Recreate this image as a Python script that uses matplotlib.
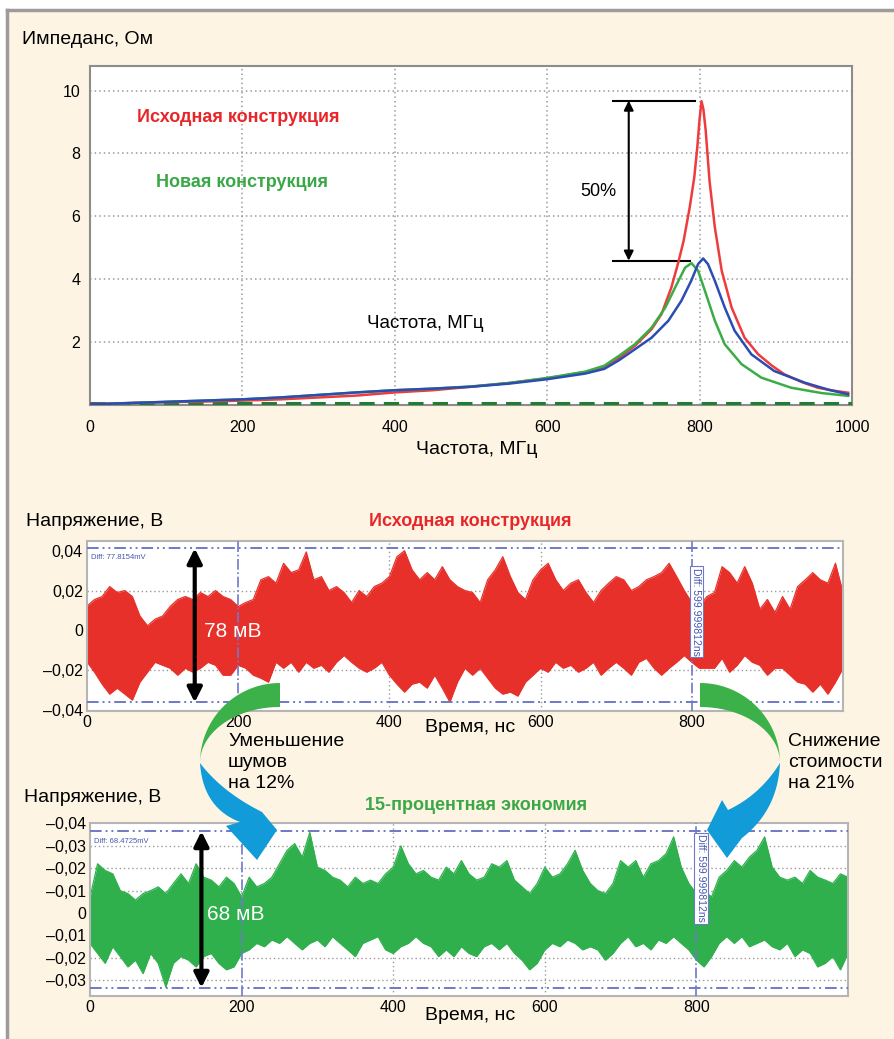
import numpy as np
import matplotlib
matplotlib.use("Agg")
import matplotlib.pyplot as plt
from matplotlib.patches import Polygon, Rectangle
from matplotlib.lines import Line2D

plt.rcParams['font.family'] = ['Liberation Sans', 'DejaVu Sans']

# --- impedance curves (MHz, Ohm) ---
red_f = [0, 50, 100, 150, 200, 250, 300, 350, 400, 450, 500, 550, 600, 650, 675, 694, 715, 737, 750, 763,
         772, 779, 787, 793, 797, 800, 802.5, 805, 808, 813, 820, 829, 842, 859, 877, 895, 911, 935, 955, 975, 995]
red_z = [0.03, 0.06, 0.09, 0.11, 0.14, 0.18, 0.24, 0.30, 0.40, 0.47, 0.58, 0.70, 0.85, 1.05, 1.22, 1.50, 1.88, 2.41, 2.89, 3.74,
         4.53, 5.22, 6.28, 7.24, 8.2, 9.1, 9.66, 9.4, 8.73, 7.13, 5.65, 4.27, 3.1, 2.14, 1.61, 1.25, 0.98, 0.72, 0.55, 0.46, 0.39]
blue_f = [0, 50, 100, 150, 200, 250, 300, 350, 400, 450, 500, 550, 600, 650, 675, 694, 715, 737, 759, 776,
          789, 798, 804.7, 811, 820, 833, 846, 868, 898, 938, 970, 995]
blue_z = [0.02, 0.06, 0.10, 0.14, 0.18, 0.24, 0.32, 0.40, 0.47, 0.52, 0.58, 0.68, 0.82, 1.00, 1.15, 1.42, 1.77, 2.14, 2.68, 3.31,
          3.95, 4.48, 4.66, 4.48, 3.95, 3.10, 2.36, 1.61, 1.08, 0.71, 0.48, 0.34]
green_f = [0, 50, 100, 150, 200, 250, 300, 350, 400, 450, 500, 550, 600, 650, 675, 694, 715, 737, 755, 770,
           781, 789.4, 798, 807, 820, 833, 855, 881, 920, 960, 995]
green_z = [0.02, 0.06, 0.10, 0.14, 0.18, 0.24, 0.32, 0.40, 0.47, 0.52, 0.59, 0.70, 0.86, 1.06, 1.25, 1.56, 1.93, 2.46, 3.10, 3.84,
           4.37, 4.51, 4.27, 3.63, 2.68, 1.93, 1.30, 0.87, 0.55, 0.38, 0.29]
base_f = [0, 1000]
base_z = [0.05, 0.05]
peak_hi, peak_lo = 9.68, 4.59

# --- noise envelopes, mV, one value every 10 ns from 0 to 1000 ns ---
red_hi = [12.2, 15.5, 17, 22, 19, 20, 17, 7.2, 2.3, 5.6,
          7.2, 12, 15.5, 17, 15.5, 19, 17, 20, 17, 15.5,
          12, 14, 15.5, 25.4, 27, 23.7, 33.7, 29, 30.4, 39.4,
          25.4, 27, 20, 22, 19, 14, 20, 17, 22, 23.7,
          27, 37, 40, 30.4, 25.4, 29, 25.4, 32, 25.4, 22,
          20, 19, 14, 25.4, 30.4, 37, 27, 19, 15.5, 25.4,
          30.4, 33.7, 25.4, 20, 23.7, 25.4, 19, 14, 20, 23.7,
          27, 25.4, 20, 22, 25.4, 27, 29, 33.7, 27, 20,
          14, 12, 17, 19, 32, 29, 23.7, 32, 23.7, 10.6,
          15.5, 9, 17, 10.6, 22, 25.4, 29, 25.4, 23.7, 33.7,
          19]
red_lo = [-15.8, -21, -27, -32, -29, -32, -35, -26, -21, -16,
          -17.5, -19, -22.5, -19, -21, -19, -16, -17.5, -22.5, -22.5,
          -17.5, -19, -22.5, -24, -26, -16, -19, -16, -21, -16,
          -19, -17.5, -21, -16, -12.6, -16, -19, -21, -19, -16,
          -22.5, -27, -31, -27, -26, -29, -22.5, -29, -36, -26,
          -19, -22.5, -19, -24, -29, -32, -31, -33, -26, -22.5,
          -19, -21, -16, -19, -17.5, -21, -19, -16, -22.5, -19,
          -16, -19, -22.5, -16, -14, -19, -22.5, -19, -16, -12.6,
          -16, -19, -19, -19, -14, -21, -17.5, -12.6, -16, -17.5,
          -22.5, -19, -19, -22.5, -26, -27, -31, -27, -32, -26,
          -19]
green_hi = [7, 22, 19, 17.5, 10, 8.7, 5.8, 8.7, 10, 11.7,
            8.7, 13.2, 17.5, 13.2, 22, 16, 14.7, 11.7, 16, 13.2,
            7.2, 16, 11.7, 13.2, 16, 22, 28, 31, 25, 36,
            20.5, 19, 16, 14.7, 11.7, 16, 13.2, 14.7, 13.2, 17.5,
            20.5, 30, 22, 17.5, 19, 16, 14.7, 20.5, 17.5, 23.4,
            17.5, 14.7, 16, 22, 20.5, 23.4, 14.7, 11.7, 8.7, 13.2,
            20.5, 16, 17.5, 22, 28, 19, 13.2, 10, 8.7, 13.2,
            23.4, 20.5, 23.4, 16, 22, 23.4, 26.5, 34, 20.5, 13.2,
            8.7, 10, 7.2, 16, 19, 23.4, 20.5, 25, 28, 34,
            20.5, 16, 14.7, 16, 13.2, 19, 16, 14.7, 13.2, 17.5,
            16]
green_lo = [-13.5, -18, -22.4, -15, -19.4, -24, -21, -27, -18, -22.4,
            -33, -22.4, -19.4, -21, -24, -19.4, -18, -22.4, -25.3, -24,
            -18, -16.4, -13.5, -15, -12, -13.5, -10.5, -13.5, -16.4, -13.5,
            -12, -15, -10.5, -13.5, -16.4, -19.4, -13.5, -12, -10.5, -16.4,
            -18, -15, -13.5, -10.5, -13.5, -15, -19.4, -16.4, -19.4, -15,
            -18, -19.4, -15, -13.5, -16.4, -13.5, -18, -21, -25.3, -22.4,
            -16.4, -13.5, -15, -12, -13.5, -16.4, -15, -16.4, -21, -18,
            -13.5, -10.5, -15, -13.5, -16.4, -12, -13.5, -10.5, -13.5, -16.4,
            -21, -24, -19.4, -13.5, -10.5, -13.5, -10.5, -15, -13.5, -12,
            -15, -16.4, -13.5, -19.4, -16.4, -18, -24, -22.4, -19.4, -25.3,
            -18]
t_ns = np.arange(0, 1001, 10)

red_cursor = [0.0412, -0.0362]
green_cursor = [0.0365, -0.0333]
time_cursor = [200, 800]

imp_ticks = [2, 4, 6, 8, 10]
freq_ticks = [0, 200, 400, 600, 800, 1000]
red_yticks = [0.04, 0.02, 0, -0.02, -0.04]
red_ylabels = ['0,04', '0,02', '0', '–0,02', '–0,04']
green_yticks = [0.04, 0.03, 0.02, 0.01, 0, -0.01, -0.02, -0.03]
green_ylabels = ['–0,04', '–0,03', '–0,02', '–0,01', '0', '–0,01', '–0,02', '–0,03']
time_ticks = [0, 200, 400, 600, 800]

W, H = 894, 1039
CREAM = '#fdf4e3'
RED_T = '#e8262a'
GREEN_T = '#3aa847'
CURSOR = '#6f79c8'
GRID = '#9a9a9a'

fig = plt.figure(figsize=(W / 100, H / 100), dpi=100, facecolor='white')


def box(l, t, r, b):
    return [l / W, 1 - b / H, (r - l) / W, (b - t) / H]


def fpt(px, py):
    return px / W, 1 - py / H


def to_fig(pts):
    pts = np.asarray(pts, float)
    return np.column_stack([pts[:, 0] / W, 1 - pts[:, 1] / H])


# background panel with grey border
fig.add_artist(Rectangle((7 / W, 0), 1 - 7 / W, 1 - 10 / H, facecolor=CREAM, edgecolor='none', zorder=-10))
fig.add_artist(Line2D([7 / W, 1], [1 - 10 / H] * 2, color='#9c9c9c', lw=2.5, zorder=-9))
fig.add_artist(Line2D([7 / W] * 2, [0, 1 - 10 / H], color='#9c9c9c', lw=2.5, zorder=-9))

# ---------------- impedance plot ----------------
ax1 = fig.add_axes(box(90, 66, 852, 405))
ax1.plot(base_f, base_z, color='#1f7f31', lw=2.2, ls=(0, (5, 3)), zorder=3)
ax1.plot(red_f, red_z, color='#ee3b3b', lw=1.8, zorder=3)
ax1.plot(green_f, green_z, color='#3aad47', lw=1.8, zorder=3)
ax1.plot(blue_f, blue_z, color='#2b4db3', lw=1.8, zorder=3)
ax1.set_xlim(0, 1000)
ax1.set_ylim(0, 10.78)
ax1.set_xticks(freq_ticks)
ax1.set_yticks(imp_ticks)
ax1.grid(color=GRID, ls=(0, (1, 2)), lw=1.1)
ax1.tick_params(length=0, labelsize=11.5, pad=7)
ax1.tick_params(axis='x', pad=11)
for s in ax1.spines.values():
    s.set_color('#8c8c8c')
    s.set_linewidth(1.5)

ax1.plot([686, 794.6], [peak_hi, peak_hi], color='black', lw=1.5)
ax1.plot([686, 788], [peak_lo, peak_lo], color='black', lw=1.5)
ax1.annotate('', xy=(707, peak_hi), xytext=(707, peak_lo),
             arrowprops=dict(arrowstyle='<|-|>', color='black', lw=1.5, mutation_scale=14, shrinkA=0, shrinkB=0))
ax1.text(667, 6.8, '50%', fontsize=13, ha='center', va='center')
ax1.text(62, 9.14, 'Исходная конструкция', color=RED_T, fontsize=13, fontweight='bold', va='center')
ax1.text(86, 7.07, 'Новая конструкция', color=GREEN_T, fontsize=13, fontweight='bold', va='center')
ax1.text(363, 2.6, 'Частота, МГц', fontsize=13.5, va='center')

fig.text(*fpt(22, 40), 'Импеданс, Ом', fontsize=14, va='center')
fig.text(*fpt(477, 450), 'Частота, МГц', fontsize=14, va='center', ha='center')


def noise_axes(rect, hi, lo, color, ylim, yticks, ylabels, cursors, grid_y, diff_text, label_v):
    ax = fig.add_axes(rect)
    hi = np.array(hi) / 1000
    lo = np.array(lo) / 1000
    ax.fill_between(t_ns, lo, hi, color=color, lw=0, zorder=2)
    ax.plot(t_ns, hi, color=color, lw=0.9, zorder=2)
    ax.plot(t_ns, lo, color=color, lw=0.9, zorder=2)
    ax.set_xlim(0, 1000)
    ax.set_ylim(*ylim)
    for x in (400, 600):
        ax.axvline(x, color=GRID, ls=(0, (1, 2)), lw=1, zorder=1)
    for y in grid_y:
        ax.axhline(y, color=GRID, ls=(0, (1, 2)), lw=1, zorder=1)
    for x in time_cursor:
        ax.axvline(x, color=CURSOR, ls='-.', lw=1.2, zorder=3)
    for y in cursors:
        ax.axhline(y, color=CURSOR, ls=(0, (6, 2, 1, 2, 1, 2)), lw=1.4, zorder=3)
    ax.set_xticks(time_ticks)
    ax.set_yticks(yticks)
    ax.set_yticklabels(ylabels)
    ax.tick_params(length=0, labelsize=11.5, pad=3)
    for s in ax.spines.values():
        s.set_color('#b5b5b5')
        s.set_linewidth(1.5)
    ax.text(5, cursors[0] - 0.0045, diff_text, fontsize=5.5, color='#4656b0', va='center', zorder=4)
    ax.text(806, label_v, 'Diff: 599.999812ns', rotation=-90, fontsize=7.5, color='#4656b0',
            ha='center', va='center', zorder=4,
            bbox=dict(facecolor='white', edgecolor=CURSOR, pad=1.2, lw=0.8))
    return ax


ax2 = noise_axes(box(87, 541, 843, 711), red_hi, red_lo, '#e8302a', (-0.0405, 0.0449),
                 red_yticks, red_ylabels, red_cursor, [0.02, -0.02], 'Diff: 77.8154mV', 0.0095)
ax2.annotate('', xy=(142.5, red_cursor[0]), xytext=(142.5, red_cursor[1]),
             arrowprops=dict(arrowstyle='<|-|>', color='black', lw=3, mutation_scale=22, shrinkA=0, shrinkB=0),
             zorder=5)
ax2.text(155, -0.0008, '78 мВ', color='white', fontsize=15, va='center', zorder=5)

ax3 = noise_axes(box(90, 823, 848, 996), green_hi, green_lo, '#2fb04c', (-0.037, 0.0402),
                 green_yticks, green_ylabels, green_cursor, [0.03, 0.02, 0.01, -0.01, -0.02, -0.03],
                 'Diff: 68.4725mV', 0.0155)
ax3.annotate('', xy=(147, green_cursor[0]), xytext=(147, green_cursor[1]),
             arrowprops=dict(arrowstyle='<|-|>', color='black', lw=3, mutation_scale=22, shrinkA=0, shrinkB=0),
             zorder=5)
ax3.text(155, -0.0008, '68 мВ', color='white', fontsize=15, va='center', zorder=5)

fig.text(*fpt(26, 522), 'Напряжение, В', fontsize=14, va='center')
fig.text(*fpt(470, 522), 'Исходная конструкция', fontsize=13, fontweight='bold', color=RED_T,
         va='center', ha='center')
fig.text(*fpt(470, 727), 'Время, нс', fontsize=14, va='center', ha='center')
fig.text(*fpt(24, 797), 'Напряжение, В', fontsize=14, va='center')
fig.text(*fpt(476, 805), '15-процентная экономия', fontsize=13, fontweight='bold', color=GREEN_T,
         va='center', ha='center')
fig.text(*fpt(470, 1016), 'Время, нс', fontsize=14, va='center', ha='center')
fig.text(*fpt(228, 733), 'Уменьшение\nшумов\nна 12%', fontsize=14, va='top', linespacing=1.3)
fig.text(*fpt(788, 733), 'Снижение\nстоимости\nна 21%', fontsize=14, va='top', linespacing=1.3)


# ---------------- curved ribbon arrows ----------------
def qbez(p0, p1, p2, n=30):
    s = np.linspace(0, 1, n)[:, None]
    return (1 - s) ** 2 * np.array(p0) + 2 * (1 - s) * s * np.array(p1) + s ** 2 * np.array(p2)


th = np.radians(np.linspace(90, 180, 40))
g_out = np.column_stack([280 + 80 * np.cos(th), 763 - 80 * np.sin(th)])
g_in = np.column_stack([280 + 80 * np.cos(th[::-1]), 763 - 56 * np.sin(th[::-1])])
green_left = np.vstack([g_out, g_in])
green_right = green_left.copy()
green_right[:, 0] = 980 - green_right[:, 0]

blue_left = np.vstack([qbez((200, 763), (203, 808), (240, 822)),
                       [(226, 826), (257, 860), (277, 830)],
                       qbez((200, 763), (222, 792), (262, 812))[::-1]])
blue_right = np.vstack([qbez((780, 763), (778, 810), (742, 838)),
                        [(727, 858), (707, 830), (722, 800)],
                        qbez((780, 763), (760, 795), (728, 810))[::-1]])

for pts, col in [(green_left, '#3cb14a'), (green_right, '#3cb14a'),
                 (blue_left, '#119bd8'), (blue_right, '#119bd8')]:
    fig.add_artist(Polygon(to_fig(pts), closed=True, facecolor=col, edgecolor='none', zorder=6))

fig.savefig('out.png', dpi=100, facecolor='white')
